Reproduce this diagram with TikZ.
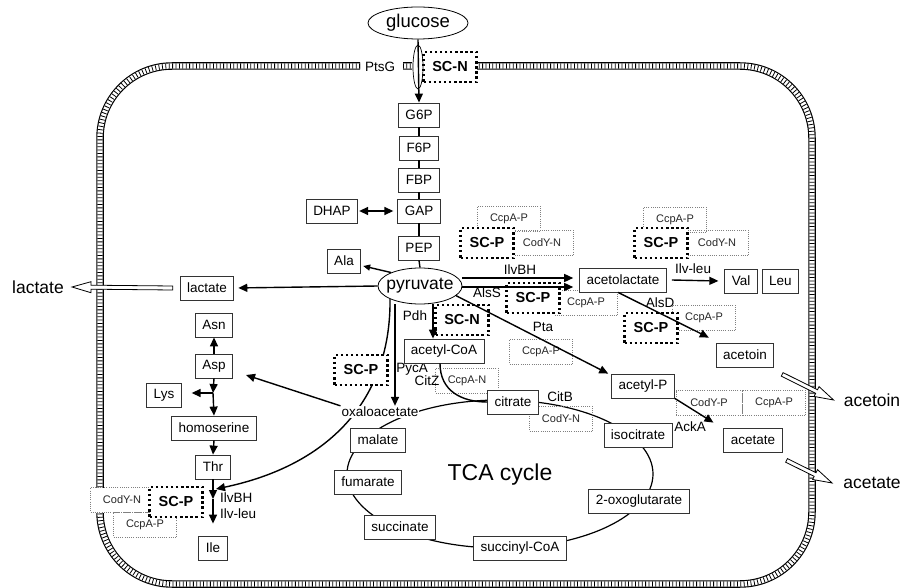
\documentclass[tikz,border=0pt]{standalone}
\usepackage{fontspec}
\setmainfont{Liberation Sans}
\usetikzlibrary{shapes.geometric, arrows.meta, calc, positioning}
\pgfdeclarelayer{back}
\pgfsetlayers{back,main}
\newcommand{\membranepath}{(360,66) -- (100,66) -- (100,584) -- (812,584) -- (812,66) -- (477,66) (403,66) -- (412,66)}
\newcommand{\hollowarrow}[2]{%
  \coordinate (hb) at ($(#2)!19pt!(#1)$);
  \draw[line width=0.8pt, fill=white] ($(#1)!2pt!90:(#2)$) -- ($(hb)!2pt!90:(#2)$) -- ($(hb)!5.5pt!90:(#2)$) -- (#2)
    -- ($(hb)!5.5pt!-90:(#2)$) -- ($(hb)!2pt!-90:(#2)$) -- ($(#1)!2pt!-90:(#2)$) -- cycle;}

\begin{document}
\begin{tikzpicture}[x=1pt, y=-1pt, >={Triangle[length=9pt,width=8pt]}]
    \tikzstyle{met}=[draw=black!80, line width=0.8pt, fill=white, inner xsep=7pt, inner ysep=0pt, minimum height=24pt, font=\fontsize{13.5}{15}\selectfont]
    \tikzstyle{lbl}=[inner sep=1pt, font=\fontsize{13.5}{15}\selectfont]
    \tikzstyle{big}=[inner sep=1pt, font=\fontsize{17.5}{20}\selectfont]
    \tikzstyle{sc}=[draw, line width=2.4pt, dash pattern=on 2.4pt off 2.7pt, fill=white, minimum width=53pt, minimum height=30pt, inner sep=0pt, font=\fontsize{14.5}{16}\selectfont\bfseries]
    \tikzstyle{reg}=[draw=black!50, line width=0.6pt, dash pattern=on 1pt off 1.2pt, minimum width=63pt, minimum height=25pt, inner sep=0pt, font=\fontsize{11}{13}\selectfont, text=black!85]
    \tikzstyle{link}=[line width=1.4pt]
    \tikzstyle{flow}=[line width=1.4pt, ->]
    \useasboundingbox (0,0) rectangle (902,588);

    \node [ellipse, draw, line width=0.8pt, minimum width=100pt, minimum height=32pt, inner xsep=-8pt, inner ysep=0pt, font=\fontsize{18.5}{21}\selectfont] (glucose) at (418,23) {glucose};
    \node [ellipse, draw, line width=0.7pt, minimum width=10pt, minimum height=44pt, inner sep=0pt] (ptsg) at (418,67) {};
    \node [lbl] (ptsglabel) at (380,67) {PtsG};
    \node [sc] (scn1) at (450,67) {SC-N};
    \node [met] (g6p) at (419,115) {G6P};
    \node [met] (f6p) at (419,148) {F6P};
    \node [met] (fbp) at (419,180) {FBP};
    \node [met] (gap) at (419,211) {GAP};
    \node [met] (dhap) at (332,211) {DHAP};
    \node [met] (pep) at (419,248) {PEP};
    \node [ellipse, draw, line width=0.8pt, fill=white, minimum width=84pt, minimum height=36pt, inner xsep=-4pt, inner ysep=0pt, font=\fontsize{17.5}{20}\selectfont] (pyruvate) at (420,286) {pyruvate};
    \node [met] (ala) at (344,261) {Ala};
    \node [met] (lactate) at (207,288) {lactate};
    \node [big] (lactateout) at (38,287) {lactate};

    \node [met] (asn) at (214,325) {Asn};
    \node [met] (asp) at (214,366) {Asp};
    \node [met] (lys) at (164,395) {Lys};
    \node [met] (homoserine) at (214,428) {homoserine};
    \node [met] (thr) at (213,467) {Thr};
    \node [met] (ile) at (213,548) {Ile};
    \node [reg, fill=white] (cody1) at (122,500) {CodY-N};
    \node [reg] (ccpa1) at (145,525) {CcpA-P};
    \node [sc] (scp1) at (176,502) {SC-P};
    \node [lbl, anchor=west] (ilvbh1) at (219,498) {IlvBH};
    \node [lbl, anchor=west] (ilvleu1) at (219,514) {Ilv-leu};
    \coordinate (aspfork) at (213,393);
    \coordinate (ilvmid) at (213,499);
    \coordinate (ilvjoin) at (216,489);

    \node [sc] (scp2) at (361,370) {SC-P};
    \node [lbl] (pyca) at (412,369) {PycA};
    \node [lbl] (pdh) at (415,316) {Pdh};
    \node [sc] (scn2) at (462,320) {SC-N};
    \node [met] (acetylcoa) at (444,351) {acetyl-CoA};
    \node [reg] (ccpan) at (467,381) {CcpA-N};
    \node [lbl] (citz) at (427,381) {CitZ};
    \node [fill=white, inner sep=1pt, font=\fontsize{13.5}{15}\selectfont] (oxaloacetate) at (380,412) {oxaloacetate};
    \node [reg] (cody2) at (561,419) {CodY-N};
    \node [met] (citrate) at (513,402) {citrate};
    \node [lbl] (citb) at (560,397) {CitB};
    \node [met] (isocitrate) at (638,435) {isocitrate};
    \node [met] (oxoglutarate) at (639,501) {2-oxoglutarate};
    \node [met] (succinylcoa) at (520,548) {succinyl-CoA};
    \node [met] (succinate) at (400,527) {succinate};
    \node [met] (fumarate) at (368,482) {fumarate};
    \node [met] (malate) at (378,440) {malate};
    \node [font=\fontsize{23}{26}\selectfont] (tca) at (500,475) {TCA cycle};

    \node [reg] (ccpa2) at (509,219) {CcpA-P};
    \node [reg] (cody3) at (542,243) {CodY-N};
    \node [sc] (scp3) at (487,243) {SC-P};
    \node [lbl] (ilvbh2) at (520,270) {IlvBH};
    \node [lbl] (alss) at (487,293) {AlsS};
    \node [reg] (ccpa3) at (586,303) {CcpA-P};
    \node [sc] (scp4) at (533,298) {SC-P};
    \node [met] (acetolactate) at (623,280) {acetolactate};
    \node [reg] (ccpa4) at (675,220) {CcpA-P};
    \node [reg] (cody4) at (717,243) {CodY-N};
    \node [sc] (scp5) at (661,243) {SC-P};
    \node [lbl] (ilvleu2) at (693,269) {Ilv-leu};
    \node [met] (val) at (741,281) {Val};
    \node [met, right=4pt of val] (leu) {Leu};
    \node [reg] (ccpa5) at (704,318) {CcpA-P};
    \node [sc] (scp6) at (651,328) {SC-P};
    \node [lbl] (alsd) at (660,303) {AlsD};
    \node [met] (acetoin) at (745,355) {acetoin};
    \node [big] (acetoinout) at (872,400) {acetoin};
    \node [lbl] (pta) at (543,327) {Pta};
    \node [reg] (ccpa6) at (541,352) {CcpA-P};
    \node [met] (acetylp) at (643,386) {acetyl-P};
    \node [reg, minimum width=66pt] (cody5) at (709,403) {CodY-P};
    \node [reg, right=0pt of cody5] (ccpa7) {CcpA-P};
    \node [lbl] (acka) at (690,427) {AckA};
    \node [met] (acetate) at (753,440) {acetate};
    \node [big] (acetateout) at (872,483) {acetate};

    \begin{pgfonlayer}{back}
      \draw [line width=7.5pt, rounded corners=72pt] \membranepath;
      \draw [white, line width=5.2pt, rounded corners=72pt] \membranepath;
      \draw [line width=5.2pt, rounded corners=72pt, dash pattern=on 0.8pt off 2.6pt] \membranepath;
      \draw [line width=1.2pt] (500,474) ellipse [x radius=153pt, y radius=74pt];
      \draw [flow] (pyruvate.south west) .. controls +(1,100) and +(114,-24) .. (ilvjoin);
    \end{pgfonlayer}

    \draw [flow] (glucose.south) -- (g6p.north);
    \foreach \a/\b in {g6p/f6p, f6p/fbp, fbp/gap, gap/pep}
      \draw [link] (\a.south) -- (\b.north);
    \draw [link] (pep.south) -- (pyruvate.north);
    \draw [link, <->] ([xshift=1pt]dhap.east) -- ([xshift=-4pt]gap.west);
    \draw [flow, >={Triangle[length=7pt,width=6pt]}] (pyruvate.155) -- ([shift={(2pt,-5pt)}]ala.east);
    \draw [flow, shorten >=4pt] (pyruvate.west) -- (lactate.east);
    \draw [flow] ([yshift=8pt]pyruvate.east) -- ([yshift=8pt, xshift=-6pt]pyruvate.east -| acetolactate.west);
    \draw [flow] ([yshift=-1pt]pyruvate.east) -- ([yshift=-1pt, xshift=-6pt]pyruvate.east -| acetolactate.west);
    \draw [flow] (pyruvate.-15) -- ([xshift=-3pt]acetylp.north west);
    \draw [flow] ([xshift=-25pt]pyruvate.south) -- ([xshift=-25pt]pyruvate.south |- oxaloacetate.north);
    \draw [flow] ([xshift=13pt]pyruvate.south) -- ([xshift=13pt]pyruvate.south |- acetylcoa.north);
    \draw [link] ([xshift=-4pt]acetylcoa.south) .. controls +(0,28) and +(-25,0) .. (citrate.west);
    \draw [flow] (oxaloacetate.north west) -- ([shift={(13pt,-9pt)}]asp.east);
    \draw [flow] (asp.north) -- (asn.south);
    \draw [flow] (asp.south) -- (aspfork);
    \draw [flow] (aspfork) -- (homoserine.north);
    \draw [flow, shorten >=10pt] (aspfork) -- (aspfork -| lys.east);
    \draw [flow] (homoserine.south) -- (thr.north);
    \draw [flow] (thr.south) -- (ilvmid);
    \draw [flow] (ilvmid) -- ([yshift=12pt]ile.north);
    \draw [flow] ([xshift=5pt]acetolactate.east) -- ([xshift=-6pt]val.west);
    \draw [flow] ([xshift=-5pt]acetolactate.south) -- ([shift={(-7pt,5pt)}]acetoin.north west);
    \draw [flow] (acetylp.south east) -- ([shift={(-10pt,5pt)}]acetate.north west);

    \coordinate (lacin) at ([xshift=-7pt]lactate.west);
    \coordinate (lacend) at ([xshift=7pt]lactateout.east);
    \hollowarrow{lacin}{lacend}
    \coordinate (acoin) at ([shift={(8pt,-7pt)}]acetoin.south east);
    \coordinate (acoend) at ([xshift=-9pt]acetoinout.west);
    \hollowarrow{acoin}{acoend}
    \coordinate (acein) at ([shift={(4pt,-8pt)}]acetate.south east);
    \coordinate (aceend) at ([xshift=-10pt]acetateout.west);
    \hollowarrow{acein}{aceend}
  \end{tikzpicture}
\end{document}
